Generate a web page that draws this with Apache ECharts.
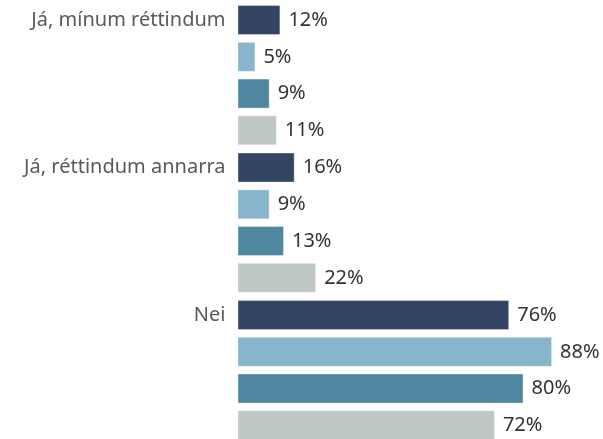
<!DOCTYPE html>
<html>
<head>
<meta charset="utf-8">
<script src="https://cdn.jsdelivr.net/npm/echarts@6/dist/echarts.min.js"></script>
<style>
  html, body { margin: 0; padding: 0; background: #fff; overflow: hidden; }
  /* the last bar runs slightly past the bottom edge of the window */
  #chart { width: 603px; height: 450px; }
</style>
</head>
<body>
<div id="chart"></div>
<script>
// Answer categories and the four survey groups (percent)
const categories = ['Já, mínum réttindum', 'Já, réttindum annarra', 'Nei'];
const series1 = [12, 16, 76];
const series2 = [5, 9, 88];
const series3 = [9, 13, 80];
const series4 = [11, 22, 72];
const colors = ['#334565', '#87b6cc', '#4f87a0', '#bfc7c7'];

// Category labels sit beside the first bar of each group: one row per bar
const rowLabels = [];
categories.forEach(c => { rowLabels.push(c, '', '', ''); });

const FONT = '"Noto Sans", sans-serif';

function barSeries(name, data, color) {
  return {
    name: name,
    type: 'bar',
    data: data,
    barWidth: 30,
    barGap: '22.5%',
    itemStyle: { color: color, borderColor: 'rgba(255,255,255,0.35)', borderWidth: 1 },
    label: {
      show: true,
      position: 'right',
      distance: 8,
      formatter: '{c}%',
      color: '#333333',
      fontFamily: FONT,
      fontSize: 20
    },
    silent: true
  };
}

const chart = echarts.init(document.getElementById('chart'), null, { renderer: 'canvas' });
chart.setOption({
  animation: false,
  grid: { left: 237.5, top: 1.45, width: 357.5, height: 442.5, containLabel: false },
  xAxis: {
    type: 'value', min: 0, max: 100,
    show: false
  },
  yAxis: [
    {
      type: 'category', data: categories, inverse: true,
      axisLine: { show: false }, axisTick: { show: false }, axisLabel: { show: false }
    },
    {
      type: 'category', data: rowLabels, inverse: true, position: 'left',
      axisLine: { show: false }, axisTick: { show: false },
      axisLabel: {
        show: true, interval: 0, margin: 12,
        color: '#555a5c', fontFamily: FONT, fontSize: 20
      }
    }
  ],
  series: [
    barSeries('1', series1, colors[0]),
    barSeries('2', series2, colors[1]),
    barSeries('3', series3, colors[2]),
    barSeries('4', series4, colors[3])
  ]
});
</script>
</body>
</html>
